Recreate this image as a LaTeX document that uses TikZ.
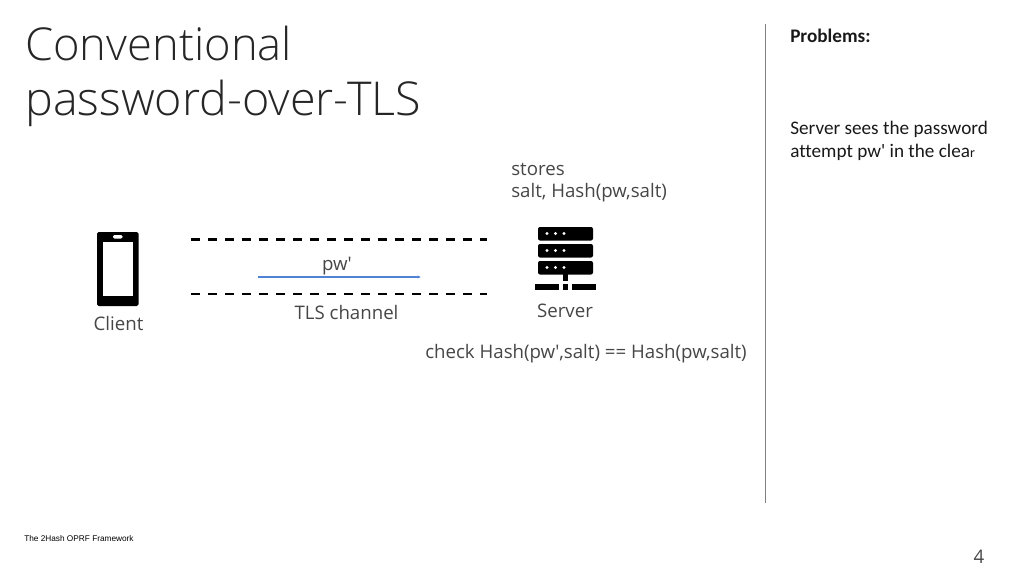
\documentclass[tikz,border=0pt]{standalone}
\usepackage{fontspec}
\setmainfont{Open Sans}
\newfontfamily\titlefont{Open Sans Light}
\newfontfamily\sidefont[Ligatures=NoCommon]{Carlito}
\newfontfamily\footfont{Liberation Sans}
\usetikzlibrary{arrows.meta}
\definecolor{textgray}{RGB}{70,70,70}
\definecolor{pwblue}{RGB}{80,130,215}
\tikzset{
  title/.style={anchor=base west, inner sep=0pt, font=\titlefont\fontsize{34}{34}\selectfont, text=black!85},
  label/.style={anchor=base west, inner sep=0pt, font=\fontsize{14}{16}\selectfont, text=textgray},
  side/.style={anchor=base west, inner sep=0pt, font=\sidefont\fontsize{14.4}{16}\selectfont, text=black!90},
  channel/.style={line width=1.9pt, dash pattern=on 7pt off 5.75pt},
}
\begin{document}
\begin{tikzpicture}[x=0.75pt,y=-0.75pt]
      \useasboundingbox (0,0) rectangle (1024,576);
      % title
      \node[title] (titleone) at (25,60) {Conventional};
      \node[title, font=\titlefont\fontsize{35}{35}\selectfont] (titletwo) at (25,115) {password-over-TLS};
      % client phone
      \fill[black, rounded corners=1.2pt] (97,232) rectangle (138.5,306);
      \fill[white] (102.5,242) rectangle (133,296);
      \fill[white, rounded corners=1pt] (113,235) rectangle (122.5,238.5);
      \node[label, anchor=base] (client) at (118.5,330) {Client};
      % channel
      \coordinate (topa) at (191,239.5);
      \coordinate (topb) at (487,239.5);
      \coordinate (bota) at (191,294);
      \coordinate (botb) at (487,294);
      \coordinate (pwa) at (258,277);
      \coordinate (pwb) at (421,277);
      \draw[channel] (topa) -- (topb);
      \draw[channel] (bota) -- (botb);
      \draw[pwblue, line width=0.9pt, -{Latex[length=2.5pt,width=2.5pt]}] (pwa) -- (pwb);
      \node[label, anchor=base] (pw) at (337,270) {pw\textquotesingle};
      \node[label, anchor=base] (tls) at (346.5,319) {TLS channel};
      % server
      \foreach \y in {227,244,261} {
        \fill[black, rounded corners=1.5pt] (538,\y) rectangle (593,\y+13.5);
        \foreach \x in {547,555.5,564}
          \fill[white] (\x,\y+6.5) circle (1.6);
      }
      \fill[black] (563,274) rectangle (568,281);
      \fill[black] (535,284) rectangle (559,289.5);
      \fill[black] (563,284) rectangle (568,289.5);
      \fill[black] (572,284) rectangle (596,289.5);
      \node[label, anchor=base] (server) at (565,317) {Server};
      \node[label] (stores) at (511,175) {stores};
      \node[label] (salt) at (511,197) {salt, Hash(pw,salt)};
      \node[label] (check) at (425,358) {check Hash(pw\textquotesingle,salt) == Hash(pw,salt)};
      % right column
      \coordinate (rulea) at (765.5,24);
      \coordinate (ruleb) at (765.5,503);
      \draw[gray, line width=0.75pt] (rulea) -- (ruleb);
      \node[side, font=\sidefont\bfseries\fontsize{14.4}{16}\selectfont] (problems) at (790,42) {Problems:};
      \node[side] (sees) at (790,134) {Server sees the password};
      \node[side] (attempt) at (790,157) {attempt pw' in the clea{\fontsize{10.5}{10}\selectfont r}};
      % footer
      \node[anchor=base west, inner sep=0pt, font=\footfont\fontsize{6.2}{8}\selectfont] (foot) at (24,541) {The 2Hash OPRF Framework};
      \node[anchor=base, inner sep=0pt, font=\fontsize{14}{16}\selectfont, text=textgray] (page) at (979,563) {4};
    \end{tikzpicture}
\end{document}
